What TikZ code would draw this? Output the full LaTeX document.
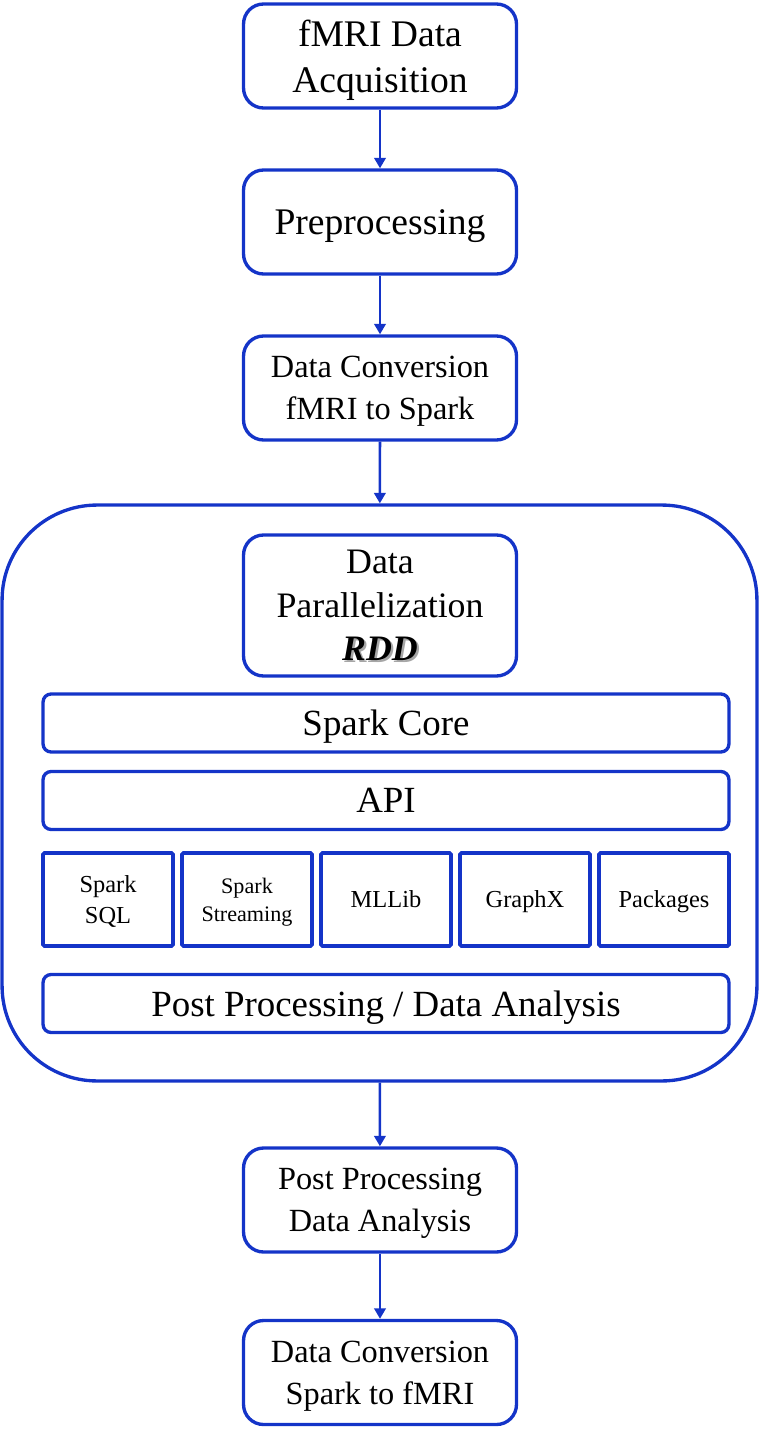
\documentclass[tikz,border=0pt]{standalone}
\usepackage{fontspec}
\setmainfont{Liberation Serif}
\usetikzlibrary{arrows.meta}
\usetikzlibrary{positioning}
\definecolor{flowblue}{RGB}{20,52,200}
\newcommand\rddshadow[1]{\makebox[0pt][l]{\kern1.3pt\raisebox{-1.3pt}{\color{black!35}#1}}#1}
\tikzset{
    every node/.append style={
        align=center,
        inner sep=2pt,
        text depth=0pt
    },
    box/.style={
        draw=flowblue,
        line width=1.9pt,
        rounded corners=0.4cm,
        minimum width=5.46cm,
        minimum height=2.08cm,
        font=\fontsize{21.4}{26}\selectfont
    },
    smallbox/.append style={
        box,
        font=\fontsize{18.4}{23.8}\selectfont
    },
    container/.style={
        draw=flowblue,
        line width=1.9pt,
        rounded corners=1.9cm,
        minimum width=15.1cm,
        minimum height=11.52cm
    },
    bar/.style={
        draw=flowblue,
        line width=1.9pt,
        rounded corners=0.16cm,
        minimum width=13.72cm,
        minimum height=1.16cm,
        font=\fontsize{21}{25}\selectfont
    },
    module/.style={
        draw=flowblue,
        line width=2.1pt,
        rounded corners=0.03cm,
        minimum width=2.6cm,
        minimum height=1.86cm,
        font=\fontsize{13.9}{18}\selectfont
    },
    every edge/.append style={
        draw=flowblue,
        line width=1.5pt,
        -{Triangle[length=6pt,width=6.5pt]}
    }
}
\begin{document}
\begin{tikzpicture}[x=0.02cm, y=-0.02cm]
    \useasboundingbox (0,0) rectangle (760,1435);

    \node[box] (acq) at (380,56) {fMRI Data\\Acquisition};
    \node[box] (prep) at (380,222) {Preprocessing};
    \node[smallbox] (conv) at (380,388) {Data Conversion\\fMRI to Spark};

    \node[container] (cont) at (379.5,793) {};
    \node[box, minimum height=2.82cm, font=\fontsize{20.4}{24.7}\selectfont] (rdd) at (380,605.5)
        {Data\\Parallelization\\\rddshadow{\textbf{\textit{RDD}}}};
    \node[bar] (core) at (386,723) {Spark Core};
    \node[bar] (api) at (386,800.5) {API};
    \node[module] (sql) at (108,899.5) {Spark\\SQL};
    \node[module, font=\fontsize{12.6}{16}\selectfont] (stream) at (247,899.5) {Spark\\Streaming};
    \node[module] (mllib) at (386,899.5) {MLLib};
    \node[module] (graphx) at (525,899.5) {GraphX};
    \node[module] (pkgs) at (664,899.5) {Packages};
    \node[bar] (postbar) at (386,1003.5) {Post Processing / Data Analysis};

    \node[smallbox] (post) at (380,1200) {Post Processing\\Data Analysis};
    \node[smallbox] (back) at (380,1372.5) {Data Conversion\\Spark to fMRI};

    \draw (acq) edge (prep);
    \draw (prep) edge (conv);
    \draw (conv) edge (cont);
    \draw (cont) edge (post);
    \draw (post) edge (back);
\end{tikzpicture}
\end{document}
